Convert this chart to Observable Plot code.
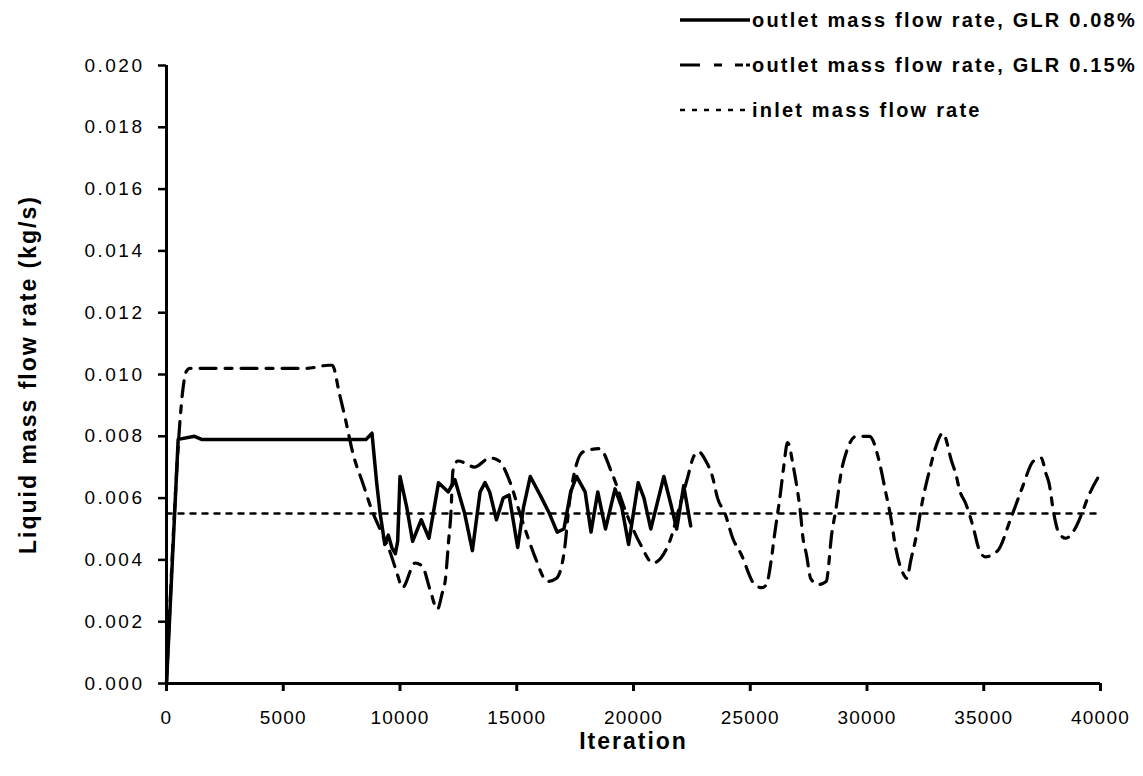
<!DOCTYPE html>
<html><head><meta charset="utf-8">
<script src="https://cdn.jsdelivr.net/npm/d3@7"></script>
<script src="https://cdn.jsdelivr.net/npm/@observablehq/plot@0.6"></script>
<style>
body{margin:0;background:#fff;}
#wrap{position:relative;width:1143px;height:776px;font-family:"Liberation Sans",Arial,sans-serif;}
.row{position:absolute;left:680px;height:24px;white-space:nowrap;display:flex;align-items:center;font-weight:bold;font-size:20px;letter-spacing:2.2px;color:#000;}
.row svg{margin-right:2px;}
</style></head><body><div id="wrap"></div>
<script>
// ---- data ----
const xTicks = [0, 5000, 10000, 15000, 20000, 25000, 30000, 35000, 40000];
const yTicks = [0, 0.002, 0.004, 0.006, 0.008, 0.010, 0.012, 0.014, 0.016, 0.018, 0.020];
const seriesNames = ["outlet mass flow rate, GLR 0.08%", "outlet mass flow rate, GLR 0.15%", "inlet mass flow rate"];
const xTitle = "Iteration";
const yTitle = "Liquid mass flow rate (kg/s)";

const glr008Iter = [0, 500, 1200, 1500, 8550, 8800, 9000, 9150, 9350, 9500, 9650, 9800, 9900, 10000, 10290, 10540, 10910, 11240, 11650, 12070, 12350, 12770, 13100, 13430, 13640, 13840, 14130, 14420, 14670, 15040, 15290, 15580, 16070, 16400, 16730, 17020, 17310, 17560, 17930, 18180, 18470, 18800, 19210, 19500, 19790, 20200, 20450, 20740, 21300, 21600, 21850, 22150, 22450];
const glr008Rate = [0, 0.0079, 0.0080, 0.0079, 0.0079, 0.0081, 0.0065, 0.0055, 0.0045, 0.0048, 0.0044, 0.0042, 0.0046, 0.0067, 0.0057, 0.0046, 0.0053, 0.0047, 0.0065, 0.0062, 0.0066, 0.0055, 0.0043, 0.0062, 0.0065, 0.0062, 0.0053, 0.0060, 0.0061, 0.0044, 0.0057, 0.0067, 0.0060, 0.0055, 0.0049, 0.0050, 0.0062, 0.0067, 0.0062, 0.0049, 0.0062, 0.0050, 0.0063, 0.0057, 0.0045, 0.0065, 0.0060, 0.0050, 0.0067, 0.0058, 0.0050, 0.0064, 0.0051];

const glr015Iter = [0, 850, 1000, 1400, 6000, 6950, 7100, 7400, 7650, 8000, 8400, 8800, 9200, 9600, 9900, 10100, 10650, 10950, 11300, 11600, 11800, 11950, 12080, 12180, 12270, 12480, 12880, 13180, 13860, 14250, 14670, 15180, 15490, 15780, 16320, 16690, 17020, 17280, 17560, 17850, 18550, 19080, 19700, 20300, 20830, 21550, 22000, 22330, 22550, 22780, 23100, 23380, 23600, 23920, 24250, 24600, 25190, 25500, 25690, 25900, 26020, 26300, 26430, 26600, 26850, 27010, 27140, 27260, 27400, 27590, 27900, 28250, 28500, 28660, 28910, 29120, 29530, 30110, 30520, 30770, 31060, 31180, 31590, 31700, 31880, 32170, 32300, 32710, 32920, 33250, 33620, 33830, 33950, 34240, 34570, 34770, 35060, 35600, 36140, 36630, 37130, 37460, 37660, 37790, 38000, 38200, 38500, 38900, 39200, 39450, 40000];
const glr015Rate = [0, 0.0101, 0.0102, 0.0102, 0.0102, 0.0103, 0.0103, 0.0094, 0.0086, 0.0074, 0.0065, 0.0056, 0.0049, 0.0042, 0.0035, 0.0031, 0.0039, 0.0038, 0.0030, 0.0024, 0.0029, 0.0034, 0.0046, 0.0055, 0.0069, 0.0072, 0.0071, 0.0070, 0.0073, 0.0072, 0.0066, 0.0054, 0.0047, 0.0041, 0.0033, 0.0034, 0.0042, 0.0060, 0.0071, 0.0075, 0.0076, 0.0068, 0.0055, 0.0045, 0.0039, 0.0046, 0.0058, 0.0067, 0.0073, 0.0075, 0.0072, 0.0067, 0.0060, 0.0055, 0.0047, 0.0042, 0.0032, 0.0031, 0.0032, 0.0040, 0.0047, 0.0062, 0.0070, 0.0078, 0.0070, 0.0063, 0.0056, 0.0047, 0.0042, 0.0034, 0.0032, 0.0033, 0.0049, 0.0056, 0.0069, 0.0075, 0.0080, 0.0080, 0.0072, 0.0063, 0.0052, 0.0046, 0.0035, 0.0034, 0.0040, 0.0050, 0.0056, 0.0070, 0.0076, 0.0081, 0.0072, 0.0067, 0.0063, 0.0058, 0.0050, 0.0044, 0.0041, 0.0043, 0.0053, 0.0063, 0.0072, 0.0073, 0.0068, 0.0065, 0.0055, 0.0049, 0.0047, 0.0050, 0.0055, 0.0060, 0.0068];

const inletIter = [0, 40000];
const inletRate = [0.0055, 0.0055];

// ---- styles ----
const styles = [
  {strokeWidth: 3.5, dash: null, legendDash: null},
  {strokeWidth: 3.2, dash: "16,9,7,9", legendDash: "20,14,8,13,8,3"},
  {strokeWidth: 2.5, dash: "5,7", legendDash: "5,7"}
];

const toRows = (xs, ys) => xs.map((x, i) => ({x, y: ys[i]}));
const r008 = toRows(glr008Iter, glr008Rate);
const r015 = toRows(glr015Iter, glr015Rate);
const rIn = toRows(inletIter, inletRate);

const chart = Plot.plot({
  width: 1143,
  height: 776,
  marginLeft: 166,
  marginRight: 43,
  marginTop: 65,
  marginBottom: 93,
  style: {fontFamily: '"Liberation Sans", Arial, sans-serif', background: "#fff", color: "#000"},
  x: {domain: [0, 40000]},
  y: {domain: [0, 0.02]},
  marks: [
    Plot.line(rIn, {x: "x", y: "y", stroke: "#000", strokeWidth: styles[2].strokeWidth, strokeDasharray: styles[2].dash}),
    Plot.line(r015, {x: "x", y: "y", stroke: "#000", strokeWidth: styles[1].strokeWidth, strokeDasharray: styles[1].dash, curve: "monotone-x"}),
    Plot.line(r008, {x: "x", y: "y", stroke: "#000", strokeWidth: styles[0].strokeWidth, curve: "linear"}),
    Plot.ruleX([0], {stroke: "#000", strokeWidth: 3}),
    Plot.ruleY([0], {stroke: "#000", strokeWidth: 3}),
    Plot.axisX({ticks: xTicks, tickSize: 8, tickPadding: 19, fontSize: 19, strokeWidth: 3, tickFormat: d => String(d), label: null}),
    Plot.axisY({ticks: yTicks, tickSize: 8, tickPadding: 14, fontSize: 19, strokeWidth: 2.5, tickFormat: d3.format(".3f"), label: null}),
    Plot.text([yTitle], {frameAnchor: "left", textAnchor: "middle", dx: -138, rotate: -90, fontSize: 23, fontWeight: "bold"}),
    Plot.text([xTitle], {frameAnchor: "bottom", textAnchor: "middle", dy: 65, fontSize: 23, fontWeight: "bold"})
  ]
});

const svg = d3.select(chart);
svg.selectAll('g[aria-label="y-axis tick label"] text').style("letter-spacing", "2.5px");
svg.selectAll('g[aria-label="x-axis tick label"] text').style("letter-spacing", "1.2px");
svg.selectAll("text").filter(function () { return this.textContent === yTitle; }).style("letter-spacing", "2px");
svg.selectAll("text").filter(function () { return this.textContent === xTitle; }).style("letter-spacing", "2px");

const wrap = document.getElementById("wrap");
wrap.appendChild(chart);

// legend
const legendTops = [8, 53, 98];
seriesNames.forEach((name, i) => {
  const row = document.createElement("div");
  row.className = "row";
  row.style.top = legendTops[i] + "px";
  const s = styles[i];
  const w = 70;
  row.innerHTML = `<svg width="${w}" height="10"><line x1="0" x2="${w}" y1="5" y2="5" stroke="#000" stroke-width="${s.strokeWidth}" ${s.legendDash ? `stroke-dasharray="${s.legendDash}"` : ""}/></svg><span>${name}</span>`;
  wrap.appendChild(row);
});
</script>
</body></html>
